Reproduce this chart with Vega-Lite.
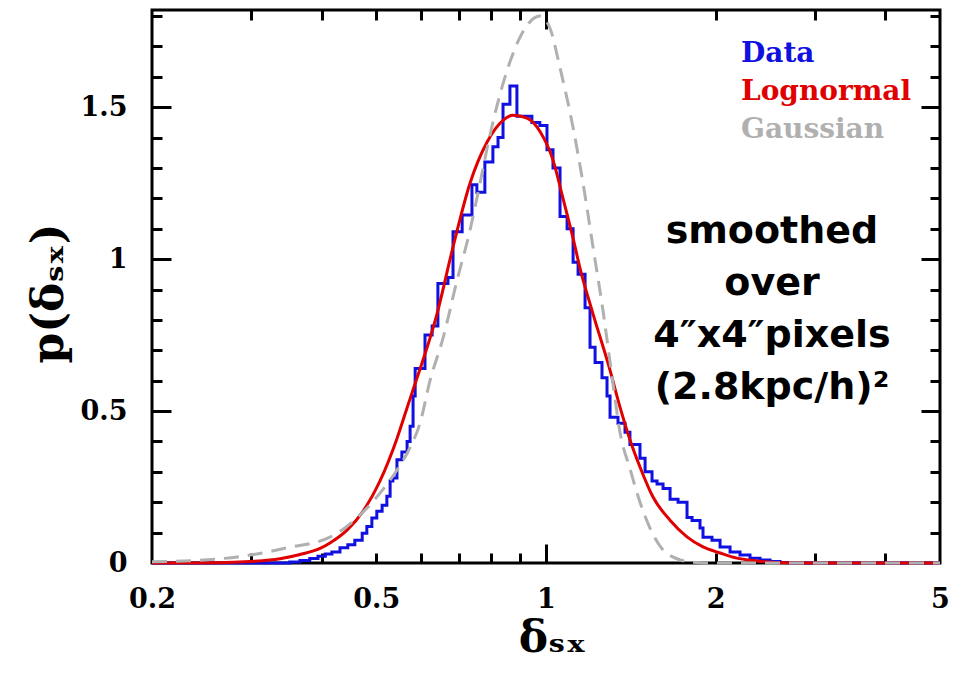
{
  "$schema": "https://vega.github.io/schema/vega-lite/v6.json",
  "width": 788,
  "height": 553,
  "autosize": "none",
  "padding": {"left": 152, "top": 10, "right": 19, "bottom": 112},
  "background": "white",
  "config": {
    "view": {"stroke": "black", "strokeWidth": 3},
    "axis": {
      "domain": false,
      "grid": false,
      "tickColor": "black",
      "tickWidth": 3,
      "labelFont": "DejaVu Serif",
      "labelFontWeight": "bold",
      "labelFontSize": 27,
      "labelColor": "black",
      "titleFont": "DejaVu Serif",
      "titleFontWeight": "bold",
      "titleFontSize": 44,
      "titleColor": "black"
    }
  },
  "datasets": {
    "hist": [
      {"d": 0.2, "p": 0}, {"d": 0.351, "p": 0.003}, {"d": 0.366, "p": 0.008}, {"d": 0.381, "p": 0.015},
      {"d": 0.394, "p": 0.022}, {"d": 0.406, "p": 0.03}, {"d": 0.417, "p": 0.036}, {"d": 0.431, "p": 0.05},
      {"d": 0.445, "p": 0.06}, {"d": 0.458, "p": 0.075}, {"d": 0.472, "p": 0.098}, {"d": 0.481, "p": 0.12},
      {"d": 0.491, "p": 0.148}, {"d": 0.501, "p": 0.17}, {"d": 0.512, "p": 0.19}, {"d": 0.522, "p": 0.22},
      {"d": 0.529, "p": 0.27}, {"d": 0.535, "p": 0.28}, {"d": 0.544, "p": 0.34}, {"d": 0.555, "p": 0.365},
      {"d": 0.567, "p": 0.40}, {"d": 0.574, "p": 0.45}, {"d": 0.581, "p": 0.55}, {"d": 0.586, "p": 0.64},
      {"d": 0.61, "p": 0.75}, {"d": 0.628, "p": 0.78}, {"d": 0.643, "p": 0.92}, {"d": 0.67, "p": 0.94},
      {"d": 0.684, "p": 1.09}, {"d": 0.71, "p": 1.145}, {"d": 0.739, "p": 1.245}, {"d": 0.754, "p": 1.22},
      {"d": 0.779, "p": 1.32}, {"d": 0.805, "p": 1.37}, {"d": 0.822, "p": 1.40}, {"d": 0.839, "p": 1.51},
      {"d": 0.863, "p": 1.57}, {"d": 0.888, "p": 1.47}, {"d": 0.944, "p": 1.45}, {"d": 0.975, "p": 1.44},
      {"d": 1.004, "p": 1.36}, {"d": 1.029, "p": 1.30}, {"d": 1.059, "p": 1.14}, {"d": 1.09, "p": 1.10},
      {"d": 1.117, "p": 0.99}, {"d": 1.14, "p": 0.95}, {"d": 1.173, "p": 0.84}, {"d": 1.197, "p": 0.71},
      {"d": 1.222, "p": 0.66}, {"d": 1.257, "p": 0.61}, {"d": 1.283, "p": 0.55}, {"d": 1.299, "p": 0.48},
      {"d": 1.342, "p": 0.46}, {"d": 1.381, "p": 0.43}, {"d": 1.409, "p": 0.39}, {"d": 1.468, "p": 0.345},
      {"d": 1.499, "p": 0.30}, {"d": 1.542, "p": 0.27}, {"d": 1.574, "p": 0.26}, {"d": 1.613, "p": 0.245},
      {"d": 1.66, "p": 0.21}, {"d": 1.715, "p": 0.20}, {"d": 1.779, "p": 0.15}, {"d": 1.816, "p": 0.14},
      {"d": 1.876, "p": 0.115}, {"d": 1.899, "p": 0.085}, {"d": 1.97, "p": 0.075}, {"d": 2.036, "p": 0.053},
      {"d": 2.121, "p": 0.036}, {"d": 2.209, "p": 0.026}, {"d": 2.301, "p": 0.016}, {"d": 2.397, "p": 0.01},
      {"d": 2.497, "p": 0.005}, {"d": 2.601, "p": 0.002}, {"d": 2.709, "p": 0}, {"d": 5, "p": 0}
    ],
    "logn": [
      {"d": 0.2, "p": 0}, {"d": 0.26, "p": 0.001}, {"d": 0.2985, "p": 0.005}, {"d": 0.3374, "p": 0.014},
      {"d": 0.3661, "p": 0.028}, {"d": 0.3973, "p": 0.048}, {"d": 0.4138, "p": 0.066}, {"d": 0.4436, "p": 0.108},
      {"d": 0.4735, "p": 0.17}, {"d": 0.5076, "p": 0.27}, {"d": 0.5441, "p": 0.41}, {"d": 0.5668, "p": 0.51},
      {"d": 0.5785, "p": 0.56}, {"d": 0.6407, "p": 0.82}, {"d": 0.684, "p": 1.04}, {"d": 0.7331, "p": 1.25},
      {"d": 0.7858, "p": 1.385}, {"d": 0.8389, "p": 1.457}, {"d": 0.8739, "p": 1.474}, {"d": 0.9253, "p": 1.464},
      {"d": 0.9758, "p": 1.42}, {"d": 1.029, "p": 1.326}, {"d": 1.0719, "p": 1.20}, {"d": 1.1166, "p": 1.07},
      {"d": 1.1491, "p": 0.97}, {"d": 1.2117, "p": 0.82}, {"d": 1.2988, "p": 0.635}, {"d": 1.353, "p": 0.513},
      {"d": 1.4094, "p": 0.405}, {"d": 1.4681, "p": 0.316}, {"d": 1.5482, "p": 0.217}, {"d": 1.6596, "p": 0.141},
      {"d": 1.7789, "p": 0.086}, {"d": 1.8991, "p": 0.053}, {"d": 2.0356, "p": 0.033}, {"d": 2.182, "p": 0.016},
      {"d": 2.3294, "p": 0.008}, {"d": 2.6, "p": 0.001}, {"d": 3, "p": 0}, {"d": 5, "p": 0}
    ],
    "gauss": [
      {"d": 0.2, "p": 0.004}, {"d": 0.264, "p": 0.014}, {"d": 0.2985, "p": 0.026}, {"d": 0.3471, "p": 0.05},
      {"d": 0.4138, "p": 0.085}, {"d": 0.4678, "p": 0.158}, {"d": 0.5076, "p": 0.23}, {"d": 0.5441, "p": 0.306},
      {"d": 0.5738, "p": 0.38}, {"d": 0.5977, "p": 0.46}, {"d": 0.6226, "p": 0.60}, {"d": 0.6566, "p": 0.74},
      {"d": 0.6952, "p": 0.93}, {"d": 0.7331, "p": 1.095}, {"d": 0.7637, "p": 1.25}, {"d": 0.7935, "p": 1.40},
      {"d": 0.8527, "p": 1.62}, {"d": 0.9179, "p": 1.76}, {"d": 0.9758, "p": 1.80}, {"d": 1.0165, "p": 1.76},
      {"d": 1.0588, "p": 1.63}, {"d": 1.1166, "p": 1.434}, {"d": 1.1633, "p": 1.25}, {"d": 1.2117, "p": 1.04},
      {"d": 1.2622, "p": 0.83}, {"d": 1.3148, "p": 0.59}, {"d": 1.353, "p": 0.43}, {"d": 1.4094, "p": 0.31},
      {"d": 1.4681, "p": 0.20}, {"d": 1.5294, "p": 0.115}, {"d": 1.6128, "p": 0.043}, {"d": 1.7077, "p": 0.014},
      {"d": 1.7789, "p": 0.005}, {"d": 1.8759, "p": 0.001}, {"d": 2, "p": 0}, {"d": 5, "p": 0}
    ],
    "note": [
      {"d": 2.517, "p": 1.0526, "label": ["smoothed", "over", "4″x4″pixels", "(2.8kpc/h)²"]}
    ]
  },
  "resolve": {"axis": {"x": "independent", "y": "independent"}},
  "layer": [
    {
      "data": {"name": "hist"},
      "mark": {"type": "line", "interpolate": "step-after", "strokeWidth": 3},
      "encoding": {
        "x": {
          "field": "d", "type": "quantitative",
          "scale": {"type": "log", "domain": [0.2, 5], "nice": false},
          "axis": {
            "orient": "bottom", "values": [0.2, 0.5, 1, 2, 5], "ticks": false,
            "labelPadding": 23, "labelFlush": false, "labelOverlap": false, "labelBound": false,
            "labelExpr": "toString(datum.value)",
            "title": "δₛₓ", "titleX": 400, "titleY": 88, "titleBaseline": "alphabetic", "titleAlign": "center"
          }
        },
        "y": {
          "field": "p", "type": "quantitative",
          "scale": {"domain": [0, 1.82], "nice": false, "zero": false},
          "axis": {
            "orient": "left", "values": [0, 0.5, 1, 1.5], "ticks": false,
            "labelPadding": 25, "labelOverlap": false, "labelBound": false, "labelFlush": false,
            "labelExpr": "toString(datum.value)",
            "title": "p(δₛₓ)", "titleAngle": 270, "titleX": -90, "titleY": 283,
            "titleBaseline": "alphabetic", "titleAlign": "center"
          }
        },
        "color": {
          "datum": "Data", "type": "nominal",
          "scale": {"domain": ["Data", "Lognormal", "Gaussian"], "range": ["#1010e0", "#e00000", "#b0b0b0"]},
          "legend": {
            "orient": "none", "legendX": 561, "legendY": 30, "title": null,
            "symbolOpacity": 0, "symbolSize": 0, "symbolStrokeWidth": 0, "symbolType": "circle",
            "labelOffset": 0, "labelFont": "DejaVu Serif", "labelFontWeight": "bold", "labelFontSize": 28,
            "labelColor": {"expr": "scale('color', datum.value)"},
            "rowPadding": 10, "labelLimit": 400
          }
        }
      }
    },
    {
      "data": {"name": "logn"},
      "mark": {"type": "line", "interpolate": "monotone", "strokeWidth": 3},
      "encoding": {
        "x": {
          "field": "d", "type": "quantitative",
          "scale": {"type": "log", "domain": [0.2, 5], "nice": false},
          "axis": {
            "orient": "bottom", "values": [0.3, 0.4, 0.5, 0.6, 0.7, 0.8, 0.9, 1, 2, 3, 4],
            "labels": false, "title": null,
            "tickSize": {"condition": {"test": "datum.value == 1", "value": -19}, "value": -10}
          }
        },
        "y": {
          "field": "p", "type": "quantitative",
          "scale": {"domain": [0, 1.82], "nice": false, "zero": false},
          "axis": {
            "orient": "left", "values": [0.1, 0.2, 0.3, 0.4, 0.5, 0.6, 0.7, 0.8, 0.9, 1, 1.1, 1.2, 1.3, 1.4, 1.5, 1.6, 1.7, 1.8],
            "labels": false, "title": null,
            "tickSize": {"condition": {"test": "datum.value == 0.5 || datum.value == 1 || datum.value == 1.5", "value": -19}, "value": -10}
          }
        },
        "color": {"datum": "Lognormal", "type": "nominal"}
      }
    },
    {
      "data": {"name": "gauss"},
      "mark": {"type": "line", "interpolate": "monotone", "strokeWidth": 3, "strokeDash": [15, 9]},
      "encoding": {
        "x": {
          "field": "d", "type": "quantitative",
          "scale": {"type": "log", "domain": [0.2, 5], "nice": false},
          "axis": {
            "orient": "top", "values": [0.3, 0.4, 0.5, 0.6, 0.7, 0.8, 0.9, 1, 2, 3, 4],
            "labels": false, "title": null,
            "tickSize": {"condition": {"test": "datum.value == 1", "value": -19}, "value": -10}
          }
        },
        "y": {
          "field": "p", "type": "quantitative",
          "scale": {"domain": [0, 1.82], "nice": false, "zero": false},
          "axis": {
            "orient": "right", "values": [0.1, 0.2, 0.3, 0.4, 0.5, 0.6, 0.7, 0.8, 0.9, 1, 1.1, 1.2, 1.3, 1.4, 1.5, 1.6, 1.7, 1.8],
            "labels": false, "title": null,
            "tickSize": {"condition": {"test": "datum.value == 0.5 || datum.value == 1 || datum.value == 1.5", "value": -19}, "value": -10}
          }
        },
        "color": {"datum": "Gaussian", "type": "nominal"}
      }
    },
    {
      "data": {"name": "note"},
      "mark": {
        "type": "text", "font": "DejaVu Sans", "fontWeight": "bold", "fontSize": 38,
        "align": "center", "baseline": "alphabetic", "lineHeight": 52, "color": "black"
      },
      "encoding": {
        "x": {"field": "d", "type": "quantitative", "scale": {"type": "log", "domain": [0.2, 5], "nice": false}, "axis": null},
        "y": {"field": "p", "type": "quantitative", "scale": {"domain": [0, 1.82], "nice": false, "zero": false}, "axis": null},
        "text": {"field": "label"}
      }
    }
  ]
}
